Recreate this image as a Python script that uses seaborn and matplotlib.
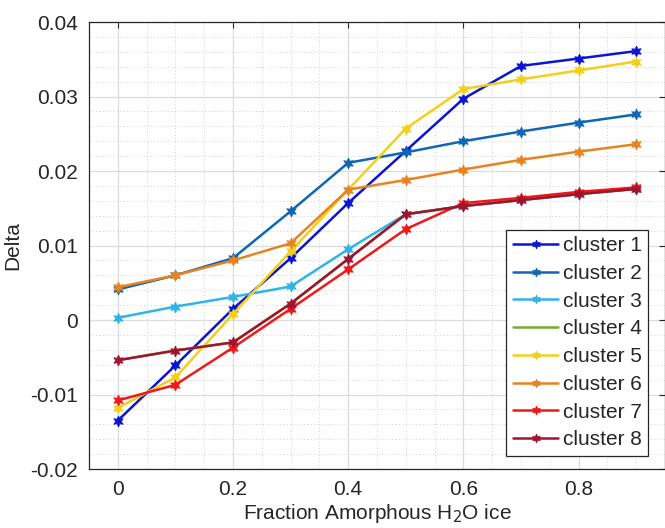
import numpy as np
import pandas as pd
import matplotlib
matplotlib.use("Agg")
import matplotlib.pyplot as plt
from matplotlib.ticker import MultipleLocator, FuncFormatter
import seaborn as sns

fraction = [0.0, 0.1, 0.2, 0.3, 0.4, 0.5, 0.6, 0.7, 0.8, 0.9]

cluster1 = [-0.0135, -0.0061, 0.0015, 0.0083, 0.0157, 0.0227, 0.0297, 0.0341, 0.0351, 0.0361]
cluster2 = [0.0041, 0.0060, 0.0083, 0.0146, 0.0211, 0.0225, 0.0240, 0.0253, 0.0265, 0.0276]
cluster3 = [0.0003, 0.0018, 0.0031, 0.0045, 0.0095, 0.0142, 0.0153, 0.0161, 0.0169, 0.0176]
cluster4 = [-0.0054, -0.0041, -0.0030, 0.0022, 0.0082, 0.0142, 0.0153, 0.0161, 0.0169, 0.0176]
cluster5 = [-0.0118, -0.0077, 0.0008, 0.0092, 0.0175, 0.0257, 0.0310, 0.0323, 0.0335, 0.0347]
cluster6 = [0.0044, 0.0060, 0.0080, 0.0103, 0.0175, 0.0188, 0.0202, 0.0215, 0.0226, 0.0236]
cluster7 = [-0.0108, -0.0087, -0.0037, 0.0015, 0.0068, 0.0122, 0.0157, 0.0164, 0.0172, 0.0178]
cluster8 = [-0.0054, -0.0041, -0.0030, 0.0022, 0.0082, 0.0142, 0.0153, 0.0161, 0.0169, 0.0176]

names = ["cluster 1", "cluster 2", "cluster 3", "cluster 4",
         "cluster 5", "cluster 6", "cluster 7", "cluster 8"]
series = [cluster1, cluster2, cluster3, cluster4, cluster5, cluster6, cluster7, cluster8]
colors = ["#0a14d2", "#0f66b4", "#2fb4ea", "#77ac30",
          "#f2d01a", "#e8841f", "#f01818", "#a0142f"]

sns.set_theme(style="white")
plt.rcParams["font.family"] = ["Liberation Sans", "DejaVu Sans"]

fig = plt.figure(figsize=(6.65, 5.28), dpi=100)
ax = fig.add_axes([0.1338, 0.1117, 0.8662, 0.8466])

hexagram = (6, 1, 0)
for name, vals, col in zip(names, series, colors):
    df = pd.DataFrame({"fraction": fraction, "delta": vals})
    mk = None if name == "cluster 4" else hexagram
    sns.lineplot(data=df, x="fraction", y="delta", color=col, marker=mk,
                 markersize=8, markeredgewidth=0.5, markeredgecolor=col,
                 linewidth=1.8, label=name, ax=ax)

ax.set_xlim(-0.05, 0.95)
ax.set_ylim(-0.02, 0.04)
ax.xaxis.set_major_locator(MultipleLocator(0.2))
ax.xaxis.set_minor_locator(MultipleLocator(0.05))
ax.yaxis.set_major_locator(MultipleLocator(0.01))
ax.yaxis.set_minor_locator(MultipleLocator(0.002))
fmt = FuncFormatter(lambda v, p: "0" if abs(v) < 1e-9 else f"{round(v, 4):g}")
ax.xaxis.set_major_formatter(fmt)
ax.yaxis.set_major_formatter(fmt)

ax.grid(True, which="major", color="#dcdcdc", linewidth=0.9, linestyle="-")
ax.grid(True, which="minor", color="#d0d0d0", linewidth=0.7, linestyle=(0, (1, 2.5)))
ax.set_axisbelow(True)

ax.tick_params(which="major", direction="in", length=4, width=0.8, color="#262626",
               labelsize=15, labelcolor="#262626", top=True, right=True, pad=8)
ax.tick_params(which="minor", length=0)
for sp in ax.spines.values():
    sp.set_color("#262626")
    sp.set_linewidth(0.9)

ax.set_xlabel("Fraction Amorphous H$_2$O ice", fontsize=15, color="#262626", labelpad=2)
ax.set_ylabel("Delta", fontsize=15, color="#262626", labelpad=6)

leg = ax.legend(loc="lower right", bbox_to_anchor=(0.97, 0.03), fontsize=15,
                frameon=True, fancybox=False, framealpha=1, edgecolor="#262626",
                handlelength=2.2, handletextpad=0.2, labelspacing=0.42,
                borderpad=0.3, borderaxespad=0.0, markerscale=0.8)
leg.get_frame().set_linewidth(0.9)

fig.savefig("out.png", dpi=100)
